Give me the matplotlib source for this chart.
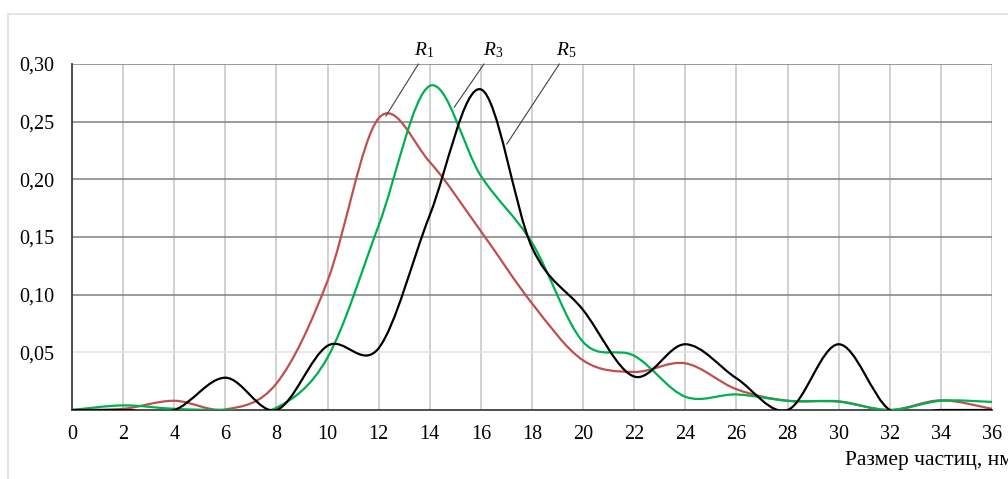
"""Particle size distributions R1, R3, R5 (smoothed lines, Excel-like)."""
import matplotlib

matplotlib.use("Agg")
import matplotlib.pyplot as plt
from matplotlib.path import Path
from matplotlib.patches import PathPatch, Rectangle

# particle size, nm
sizes = [0, 2, 4, 6, 8, 10, 12, 14, 16, 18, 20, 22, 24, 26, 28, 30, 32, 34, 36]

r1 = [0.0, 0.001, 0.008, 0.0005, 0.023, 0.112, 0.253, 0.215, 0.155, 0.0925,
      0.043, 0.033, 0.0405, 0.018, 0.008, 0.0075, 0.0, 0.0084, 0.001]
r3 = [0.0, 0.004, 0.001, 0.0, 0.002, 0.0455, 0.160, 0.281, 0.203, 0.145,
      0.059, 0.047, 0.0115, 0.0135, 0.008, 0.0072, 0.0, 0.008, 0.007]
r5 = [0.0, 0.0, 0.0, 0.028, 0.0, 0.0557, 0.0536, 0.169, 0.278, 0.141,
      0.0867, 0.029, 0.057, 0.0275, 0.0, 0.057, 0.0, 0.0, 0.0]

series = [
    ("$R_1$", r1, "#c0504d"),
    ("$R_3$", r3, "#00b050"),
    ("$R_5$", r5, "#000000"),
]

# label text position, leader end on the curve, leader start on text (relpos)
labels = {
    "$R_1$": ((13.77, 0.312), (12.28, 0.2548), (0.35, 0.0)),
    "$R_3$": ((16.47, 0.312), (14.95, 0.2623), (0.2, 0.0)),
    "$R_5$": ((19.33, 0.312), (17.01, 0.2305), (0.3, 0.0)),
}

yticks = [0.05, 0.10, 0.15, 0.20, 0.25, 0.30]
xticks = list(range(0, 37, 2))


def smooth_path(xs, ys):
    # Catmull-Rom through the points as cubic Bezier segments
    pts = list(zip(xs, ys))
    verts = [pts[0]]
    codes = [Path.MOVETO]
    n = len(pts)
    for i in range(n - 1):
        p0 = pts[max(i - 1, 0)]
        p1 = pts[i]
        p2 = pts[i + 1]
        p3 = pts[min(i + 2, n - 1)]
        c1 = (p1[0] + (p2[0] - p0[0]) / 6, p1[1] + (p2[1] - p0[1]) / 6)
        c2 = (p2[0] - (p3[0] - p1[0]) / 6, p2[1] - (p3[1] - p1[1]) / 6)
        verts += [c1, c2, p2]
        codes += [Path.CURVE4] * 3
    return Path(verts, codes)


plt.rcParams.update({
    "font.family": "Liberation Serif",
    "font.size": 14.5,
    "mathtext.fontset": "custom",
    "mathtext.rm": "Liberation Serif",
    "mathtext.it": "Liberation Serif:italic",
})

fig = plt.figure(figsize=(10.08, 4.79), dpi=100)
fig.patches.append(Rectangle((8 / 1008, -0.1), 1.2, (479 - 14) / 479 + 0.1,
                             transform=fig.transFigure, fill=False,
                             edgecolor="#e0e0e0", linewidth=1.2))
ax = fig.add_axes([72 / 1008, (479 - 410) / 479, 920 / 1008, 346 / 479])

for name, ys, color in series:
    ax.add_patch(PathPatch(smooth_path(sizes, ys), fill=False,
                           edgecolor=color, linewidth=1.6, zorder=3))

ax.set_xlim(0, 36)
ax.set_ylim(0, 0.30)
ax.set_xticks(xticks)
ax.set_yticks(yticks)
ax.set_yticklabels([f"{v:.2f}".replace(".", ",") for v in yticks])
ax.tick_params(axis="both", length=0, labelsize=14.5)
ax.tick_params(axis="y", pad=13)
ax.tick_params(axis="x", pad=11)

ax.xaxis.grid(True, color="#d0d0d0", linewidth=1.4)
ax.yaxis.grid(True, color="#808080", linewidth=1.1)
ax.yaxis.get_gridlines()[0].set_color("#e3e3e3")
ax.set_axisbelow(True)

for side in ("top", "right"):
    ax.spines[side].set_visible(False)
ax.spines["left"].set_color("#404040")
ax.spines["bottom"].set_color("#404040")
ax.spines["left"].set_linewidth(1.3)
ax.spines["bottom"].set_linewidth(1.3)

for name, (txt, tip, rel) in labels.items():
    ax.annotate(name, xy=tip, xytext=txt, ha="center", va="center",
                fontsize=14, annotation_clip=False,
                arrowprops=dict(arrowstyle="-", color="#404040", lw=0.8,
                                relpos=rel, shrinkA=1, shrinkB=0))

fig.text(845 / 1008, (479 - 461) / 479, "Размер частиц, нм",
         ha="left", va="center", fontsize=15.5)

fig.savefig("out.png", dpi=100)
